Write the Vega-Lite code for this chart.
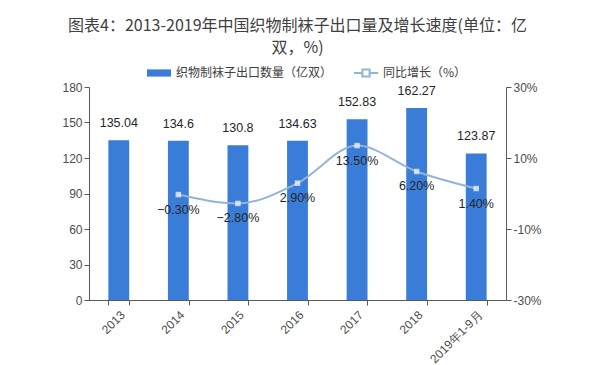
{
  "$schema": "https://vega.github.io/schema/vega-lite/v6.json",
  "width": 417,
  "height": 213,
  "autosize": {"type": "none"},
  "padding": {"left": 89, "top": 87, "right": 94, "bottom": 65},
  "background": "white",
  "config": {
    "view": {"stroke": null},
    "font": "Noto Sans CJK SC",
    "axis": {"labelColor": "#4d4d4d", "labelFontSize": 12, "domainColor": "#595959", "tickColor": "#595959", "grid": false, "title": null, "labelFont": "Liberation Sans", "labelOverlap": false}
  },
  "title": {
    "text": ["图表4：2013-2019年中国织物制袜子出口量及增长速度(单位：亿", "双，%)"],
    "fontSize": 16,
    "fontWeight": "normal",
    "color": "#404040",
    "font": "Noto Sans CJK SC",
    "anchor": "middle",
    "frame": "group",
    "offset": 4,
    "lineHeight": 22
  },
  "data": {
    "values": [
      {"year": "2013", "qty": 135.04, "growth": null},
      {"year": "2014", "qty": 134.6, "growth": -0.3},
      {"year": "2015", "qty": 130.8, "growth": -2.8},
      {"year": "2016", "qty": 134.63, "growth": 2.9},
      {"year": "2017", "qty": 152.83, "growth": 13.5},
      {"year": "2018", "qty": 162.27, "growth": 6.2},
      {"year": "2019年1-9月", "qty": 123.87, "growth": 1.4}
    ]
  },
  "encoding": {
    "x": {
      "field": "year", "type": "nominal", "sort": null,
      "scale": {"paddingInner": 0.65, "paddingOuter": 0.325},
      "axis": {"labelAngle": -45, "tickBand": "extent", "tickSize": 5, "labelPadding": 4}
    }
  },
  "layer": [
    {
      "encoding": {
        "y": {"field": "qty", "type": "quantitative", "scale": {"domain": [0, 180]}, "axis": {"values": [0, 30, 60, 90, 120, 150, 180], "tickSize": 5, "labelOverlap": false}}
      },
      "layer": [
        {
          "mark": {"type": "bar", "color": "#3a7dd8"},
          "encoding": {
            "color": {"datum": "织物制袜子出口数量（亿双）", "type": "nominal", "scale": {"range": ["#3a7dd8"]},
              "legend": {"orient": "none", "legendX": 57, "legendY": -27, "title": null, "symbolType": "M-1,-0.3H1V0.3H-1Z", "symbolSize": 576, "labelFontSize": 12, "labelColor": "#404040", "labelFont": "Noto Sans CJK SC"}}
          }
        },
        {
          "mark": {"type": "text", "dy": -10, "baseline": "bottom", "fontSize": 12.5, "color": "#262626", "font": "Liberation Sans"},
          "encoding": {
            "text": {"field": "qty", "type": "quantitative"}
          }
        }
      ]
    },
    {
      "transform": [
        {"filter": "datum.growth != null"},
        {"calculate": "format(datum.growth, '.2f') + '%'", "as": "glabel"}
      ],
      "encoding": {
        "y": {"field": "growth", "type": "quantitative", "scale": {"domain": [-30, 30]},
          "axis": {"orient": "right", "values": [-30, -10, 10, 30], "labelExpr": "datum.value + '%'", "tickSize": 5, "labelOverlap": false}}
      },
      "layer": [
        {
          "mark": {"type": "line", "interpolate": "monotone", "strokeWidth": 2},
          "encoding": {
            "color": {"datum": "同比增长（%）", "type": "nominal", "scale": {"range": ["#95b3d7"]},
              "legend": {"orient": "none", "legendX": 264, "legendY": -27, "title": null, "symbolType": "M-1,0H-0.3M0.3,0H1M-0.3,-0.3H0.3V0.3H-0.3Z", "symbolSize": 576, "symbolStrokeWidth": 2, "symbolFillColor": "white", "labelFontSize": 12, "labelColor": "#404040", "labelFont": "Noto Sans CJK SC"}}
          }
        },
        {
          "mark": {"type": "point", "shape": "square", "filled": true, "color": "white", "size": 30}
        },
        {
          "mark": {"type": "text", "dy": 15, "baseline": "middle", "fontSize": 12.5, "color": "#262626", "font": "Liberation Sans"},
          "encoding": {
            "text": {"field": "glabel", "type": "nominal"}
          }
        }
      ]
    }
  ],
  "resolve": {"scale": {"y": "independent", "color": "independent"}, "legend": {"color": "independent"}}
}
